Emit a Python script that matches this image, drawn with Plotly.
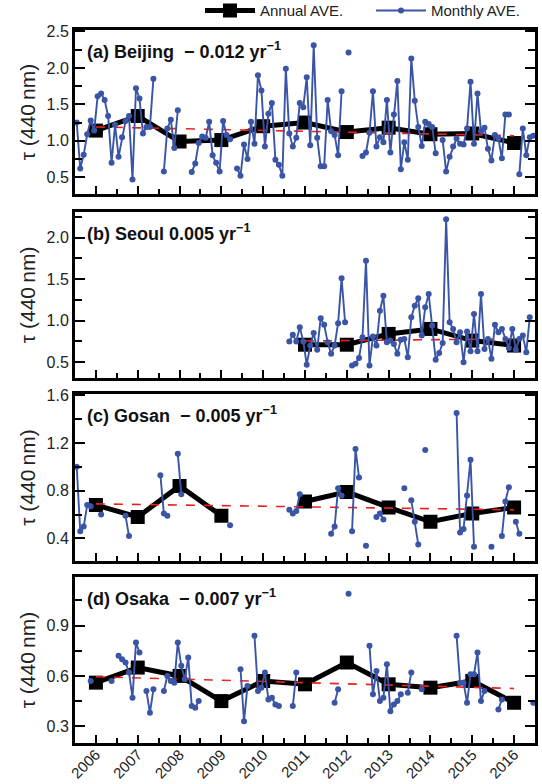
import plotly.graph_objects as go
from plotly.subplots import make_subplots

N = None
years = list(range(2006, 2017))

# Monthly averages, Jan 2006 .. Dec 2016 (132 months)
beijing_monthly = [
    1.25, 0.62, 0.81, 1.09, 1.28, 1.14, 1.61, 1.65, 1.56, 1.34, 0.70, 1.22,
    0.78, 1.05, 1.27, 1.34, 0.47, 1.72, 1.58, 1.10, 1.19, 1.19, 1.85, N,
    N, 0.58, 1.17, 1.29, 0.90, 1.42, N, N, N, 0.57, 0.69, 0.97,
    1.06, 1.04, 1.26, 0.80, 0.70, 0.58, 1.27, 1.08, 1.02, N, 0.62, 0.52,
    0.95, 0.75, 1.26, 0.96, 1.90, 1.69, 0.92, 1.37, 1.52, 0.74, 0.67, 0.52,
    1.99, 1.10, 0.92, 1.04, 1.52, 1.46, 1.87, 0.94, 2.31, 1.04, 0.65, 0.65,
    1.56, 1.13, 1.08, 0.80, 1.68, N, 2.21, N, N, N, 0.79, 0.84,
    1.11, 1.68, 0.92, 1.05, 0.98, 1.56, 0.84, 1.36, 1.82, 0.61, 0.98, 0.74,
    2.13, 1.55, 1.19, 0.93, 1.26, 1.23, 1.19, 0.83, N, 1.01, 0.58, 0.78,
    0.92, 1.03, 0.96, 0.95, 1.17, 1.81, 0.96, 1.65, 1.13, 1.18, 0.89, 0.73,
    1.08, 1.03, 0.76, 1.36, 1.36, N, N, 0.54, 1.17, 0.80, 1.05, 1.07,
]
seoul_monthly = [N] * 61 + [
    0.75, 0.83, 0.75, 0.92, 0.75, 0.47, 0.70, 0.85, 0.65, 1.03, 0.95,
    0.74, 0.60, 0.70, 0.97, 1.51, 0.98, N, 0.46, 0.48, 0.55, 0.80, 1.72,
    0.46, 0.81, 0.70, 1.12, 1.30, 0.74, 0.76, 0.72, 0.60, 0.77, 0.78, 0.56,
    1.04, 1.18, 1.27, 0.82, 1.16, 1.32, 0.94, 0.53, 0.61, 0.73, 2.22, 0.98,
    0.90, 0.74, 0.86, 0.50, 0.87, 0.63, 1.08, 0.63, 1.32, 0.66, 0.78, 0.54,
    0.95, 0.86, 0.90, 0.78, 0.67, 0.90, 0.65, 0.78, 0.82, 0.62, 1.04, N,
]
gosan_monthly = [N] * 132
for i, v in {0: 1.00, 1: 0.46, 2: 0.50, 3: 0.68, 4: 0.67, 7: 0.60, 14: 0.59, 15: 0.42,
             24: 0.93, 25: 0.61, 26: 0.59, 29: 1.11, 30: 0.77, 44: 0.51,
             61: 0.64, 62: 0.61, 63: 0.63, 64: 0.77, 73: 0.44, 74: 0.50, 75: 0.82, 76: 0.76,
             79: 0.46, 80: 1.15, 81: 0.91, 83: 0.34, 86: 0.58, 87: 0.61, 88: 0.56,
             94: 0.82, 96: 0.72, 97: 0.54, 98: 0.35, 100: 1.14,
             109: 1.45, 110: 0.45, 111: 0.48, 112: 0.76, 113: 1.06, 114: 0.33,
             119: 0.33, 122: 0.42, 123: 0.71, 124: 0.83, 126: 0.54, 127: 0.44}.items():
    gosan_monthly[i] = v
osaka_monthly = [N] * 132
for i, v in {4: 0.57, 10: 0.57, 12: 0.72, 13: 0.70, 14: 0.68, 15: 0.62, 16: 0.47, 17: 0.80, 18: 0.74,
             20: 0.51, 21: 0.38, 22: 0.52,
             25: 0.51, 26: 0.60, 27: 0.57, 28: 0.56, 29: 0.80, 30: 0.66, 31: 0.58, 32: 0.71,
             33: 0.42, 34: 0.41, 35: 0.45, 47: 0.64, 48: 0.33, 49: 0.54,
             51: 0.84, 52: 0.51, 53: 0.53, 54: 0.62, 55: 0.46, 56: 0.47, 57: 0.43, 58: 0.42,
             62: 0.42, 63: 0.62, 74: 0.44, 75: 0.52, 78: 1.09,
             84: 0.78, 85: 0.49, 86: 0.63, 87: 0.45, 88: 0.47, 89: 0.67, 90: 0.39, 91: 0.43,
             92: 0.45, 93: 0.49, 95: 0.50, 96: 0.62, 99: 0.52,
             109: 0.84, 110: 0.56, 111: 0.56, 112: 0.44, 113: 0.61, 114: 0.61, 115: 0.74,
             116: 0.45, 117: 0.51, 121: 0.40, 122: 0.46, 131: 0.44}.items():
    osaka_monthly[i] = v

# Annual averages 2006..2016
beijing_annual = [1.14, 1.34, 0.99, 1.01, 1.20, 1.25, 1.12, 1.18, 1.09, 1.10, 0.97]
seoul_annual = [N, N, N, N, N, 0.71, 0.71, 0.84, 0.90, 0.76, 0.70]
gosan_annual = [0.68, 0.58, 0.84, 0.59, N, 0.71, 0.79, 0.66, 0.54, 0.61, 0.66]
osaka_annual = [0.56, 0.65, 0.60, 0.45, 0.57, 0.55, 0.68, 0.55, 0.53, 0.57, 0.44]

# Linear trends (start year, value at start, slope per year, end year)
trend_beijing = (2006, 1.19, -0.012, 2016)
trend_seoul = (2011, 0.755, 0.005, 2016)
trend_gosan = (2006, 0.69, -0.005, 2016)
trend_osaka = (2006, 0.595, -0.007, 2016)

labels = ["(a) Beijing\u00a0\u00a0\u2212\u00a00.012\u00a0yr<sup>\u22121</sup>",
          "(b) Seoul 0.005\u00a0yr<sup>\u22121</sup>",
          "(c) Gosan\u00a0\u00a0\u2212\u00a00.005\u00a0yr<sup>\u22121</sup>",
          "(d) Osaka\u00a0\u00a0\u2212\u00a00.007\u00a0yr<sup>\u22121</sup>"]
y_ranges = [[0.27, 2.52], [0.31, 2.31], [0.21, 1.61], [0.2, 1.19]]
y_dticks = [0.5, 0.5, 0.4, 0.3]
y_tick0 = [0.5, 0.5, 0.4, 0.3]

month_x = [2005.5 + (i + 0.5) / 12 for i in range(132)]

BLUE = "#3a54a6"
FONT = "Liberation Sans, Arial, sans-serif"

fig = make_subplots(rows=4, cols=1)
panels = [(beijing_monthly, beijing_annual, trend_beijing),
          (seoul_monthly, seoul_annual, trend_seoul),
          (gosan_monthly, gosan_annual, trend_gosan),
          (osaka_monthly, osaka_annual, trend_osaka)]

for r, (mon, ann, tr) in enumerate(panels, start=1):
    first = r == 1
    fig.add_trace(go.Scatter(x=years, y=ann, mode="lines+markers", name="Annual AVE.",
                             line=dict(color="black", width=5),
                             marker=dict(symbol="square", size=14, color="black"),
                             showlegend=first, legendrank=1), row=r, col=1)
    y0, v0, s, y1 = tr
    fig.add_trace(go.Scatter(x=[y0, y1], y=[v0, v0 + s * (y1 - y0)], mode="lines",
                             line=dict(color="#e8231f", width=1.6, dash="dash"),
                             showlegend=False), row=r, col=1)
    fig.add_trace(go.Scatter(x=month_x, y=mon, mode="lines+markers", name="Monthly AVE.",
                             line=dict(color=BLUE, width=1.9),
                             marker=dict(symbol="circle", size=6, color=BLUE),
                             showlegend=first, legendrank=2), row=r, col=1)

domains = [[0.770, 1.0], [0.512, 0.745], [0.255, 0.4895], [0.0, 0.2328]]
tops_px = [30, 212, 394, 577]
H_PAPER = 713.0
for r in range(1, 5):
    xa = "xaxis" if r == 1 else f"xaxis{r}"
    ya = "yaxis" if r == 1 else f"yaxis{r}"
    fig.layout[xa].update(
        domain=[0, 1], range=[2005.5, 2016.5], tickmode="linear", tick0=2006, dtick=1,
        ticks="inside", ticklen=8, tickwidth=2, tickcolor="black",
        minor=dict(ticks="inside", dtick=0.5, tick0=2005.5, ticklen=5, tickwidth=2, tickcolor="black"),
        showline=True, linewidth=3, linecolor="black", mirror=True,
        showgrid=False, zeroline=False,
        showticklabels=(r == 4), tickangle=-45, ticklabelstandoff=-6,
        tickfont=dict(size=15, color="#222", family=FONT))
    fig.layout[ya].update(
        domain=domains[r - 1], range=y_ranges[r - 1], tickmode="linear",
        tick0=y_tick0[r - 1], dtick=y_dticks[r - 1],
        ticks="inside", ticklen=10, tickwidth=2, tickcolor="black",
        minor=dict(ticks="inside", dtick=y_dticks[r - 1] / 2, ticklen=7, tickwidth=2, tickcolor="black"),
        showline=True, linewidth=3, linecolor="black", mirror="ticks",
        showgrid=False, zeroline=False, tickformat=".1f",
        tickfont=dict(size=16, color="#222", family=FONT),
        title=dict(text="\u03c4 (440\u2009nm)", font=dict(size=21, color="#222", family=FONT), standoff=6))
    ytxt = (743 - (tops_px[r - 1] + 20)) / H_PAPER
    fig.add_annotation(xref="paper", yref="paper", x=0.022, y=ytxt, xanchor="left", yanchor="middle",
                       text="<b>" + labels[r - 1] + "</b>", showarrow=False,
                       font=dict(size=18, color="#111", family=FONT))

fig.update_layout(
    width=542, height=784,
    margin=dict(l=75, r=7, t=30, b=41, autoexpand=False),
    paper_bgcolor="white", plot_bgcolor="white",
    font=dict(family=FONT, color="#222"),
    legend=dict(orientation="h", x=(200 - 75) / 460, xanchor="left", y=1.027, yanchor="middle",
                font=dict(size=15, color="#222", family=FONT), bgcolor="rgba(0,0,0,0)",
                itemwidth=50, entrywidth=106, tracegroupgap=0),
)

fig.write_html("out.html")
